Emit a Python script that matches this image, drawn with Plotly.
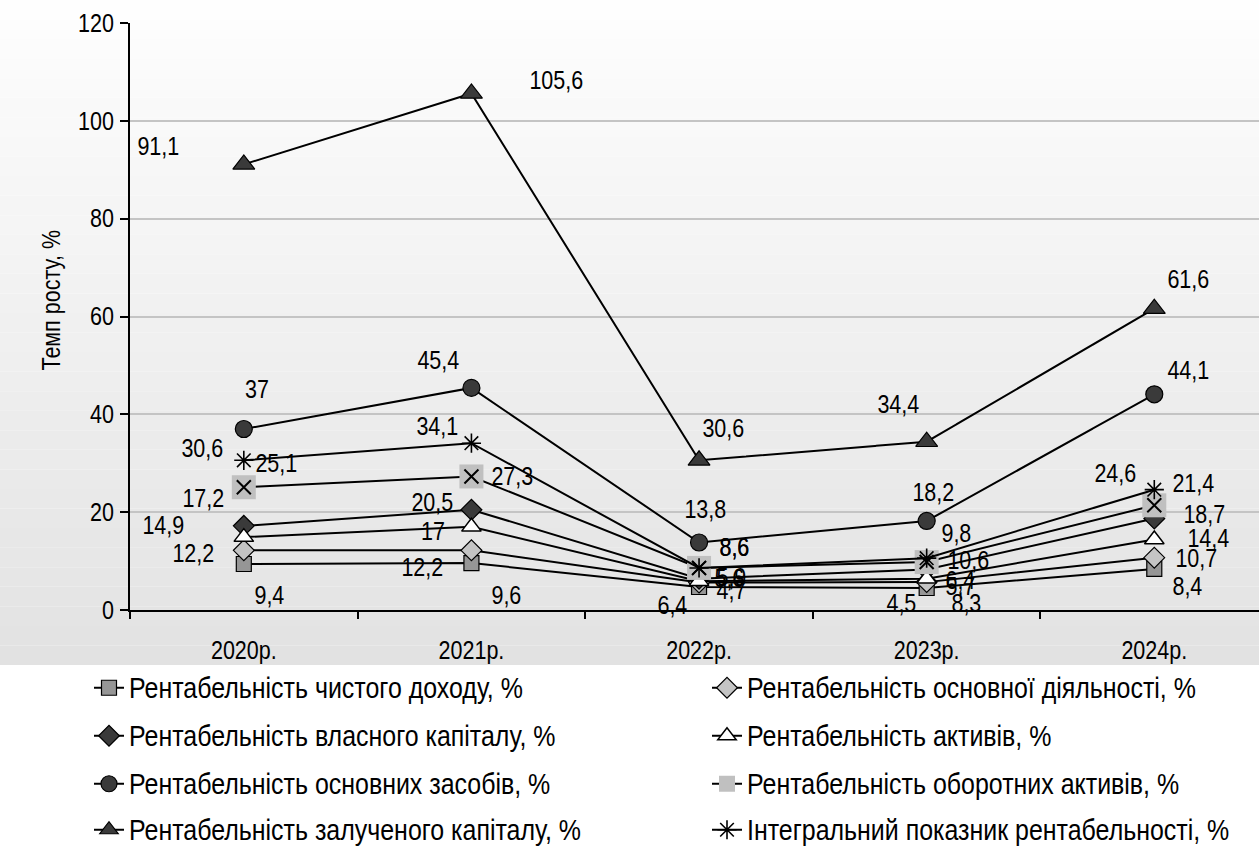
import plotly.graph_objects as go

# Categories (years)
years = ["2020р.", "2021р.", "2022р.", "2023р.", "2024р."]

# Profitability indicators, %
net_income = [9.4, 9.6, 4.7, 4.5, 8.4]
core_activity = [12.2, 12.2, 5.6, 5.7, 10.7]
equity = [17.2, 20.5, 6.4, 8.3, 18.7]
assets = [14.9, 17, 5.9, 6.4, 14.4]
fixed_assets = [37, 45.4, 13.8, 18.2, 44.1]
current_assets = [25.1, 27.3, 8.6, 9.8, 21.4]
borrowed_capital = [91.1, 105.6, 30.6, 34.4, 61.6]
integral_index = [30.6, 34.1, 8.6, 10.6, 24.6]

y_ticks = [0, 20, 40, 60, 80, 100, 120]

FONT = "Liberation Sans, Arial, sans-serif"
DARK = "#3a3a3a"

# name, values, marker style, legend slot (column, row), label offsets (px right, px down)
series = [
    ("Рентабельність чистого доходу, %", net_income,
     dict(symbol="square", size=15, color="#969696", line=dict(color="black", width=1.2)),
     (0, 0), [(26, 31), (35, 32), (32, 3), (-25, 15), (33, 17)]),
    ("Рентабельність основної діяльності, %", core_activity,
     dict(symbol="diamond", size=16, color="#c4c4c4", line=dict(color="black", width=1.2)),
     (1, 0), [(-50, 3), (-49, 17), (30, -5), (34, 4), (42, 0)]),
    ("Рентабельність власного капіталу, %", equity,
     dict(symbol="diamond", size=16, color=DARK, line=dict(color="black", width=1.2)),
     (0, 1), [(-40, -28), (-39, -8), (-27, 26), (40, 34), (50, -5)]),
    ("Рентабельність активів, %", assets,
     dict(symbol="triangle-up", size=17, color="white", line=dict(color="black", width=1.5)),
     (1, 1), [(-80, -12), (-38, 4), (32, -4), (34, 1), (54, -2)]),
    ("Рентабельність основних засобів, %", fixed_assets,
     dict(symbol="circle", size=17, color=DARK, line=dict(color="black", width=1.2)),
     (0, 2), [(13, -40), (-33, -28), (6, -34), (7, -29), (34, -24)]),
    ("Рентабельність оборотних активів, %", current_assets,
     dict(symbol="square", size=24, color="#c0c0c0", line=dict(width=0)),
     (1, 2), [(33, -24), (41, 0), (35, -21), (30, -29), (39, -22)]),
    ("Рентабельність залученого капіталу, %", borrowed_capital,
     dict(symbol="triangle-up", size=19, color=DARK, line=dict(color="black", width=1.2)),
     (0, 3), [(-85, -18), (85, -13), (24, -32), (-28, -38), (34, -30)]),
    ("Інтегральний показник рентабельності, %", integral_index,
     dict(symbol="asterisk-open", size=16, color="black", line=dict(color="black", width=1.6)),
     (1, 3), [(-41, -12), (-34, -17), (35, -21), (42, 2), (-39, -17)]),
]

W, H = 1259, 854
L, T, B = 130, 23, 610
pw, ph = W - L, B - T

xs = list(range(len(years)))
fig = go.Figure()

# legend entries are laid out at 25px and enlarged to 29px narrow lettering below
legend_style = dict(
    orientation="h", xanchor="left", yanchor="middle",
    font=dict(family=FONT, size=25, color="black"),
    bgcolor="rgba(0,0,0,0)", itemsizing="trace",
)
col_px = [89, 707]
row_px = [688, 736, 784, 830]
legend_layout = {}

for k, (name, vals, marker, (col, row), offsets) in enumerate(series):
    leg = "legend" if k == 0 else f"legend{k + 1}"
    legend_layout[leg] = dict(legend_style, x=(col_px[col] - L) / pw,
                              y=(B - row_px[row]) / ph)
    fig.add_trace(go.Scatter(
        x=xs, y=vals, name=name, mode="lines+markers",
        line=dict(color="black", width=2), marker=marker, legend=leg,
    ))
    if name.startswith("Рентабельність оборотних"):
        # black cross drawn over the grey square marker
        fig.add_trace(go.Scatter(
            x=xs, y=vals, mode="markers", showlegend=False, hoverinfo="skip",
            marker=dict(symbol="x-thin-open", size=14, color="black",
                        line=dict(color="black", width=2)),
        ))

# value labels
for name, vals, marker, slot, offsets in series:
    for i, v in enumerate(vals):
        dx, dy = offsets[i]
        fig.add_annotation(
            x=xs[i], y=v, text=f"{v:g}".replace(".", ","), showarrow=False,
            xshift=dx, yshift=-dy, font=dict(family=FONT, size=25, color="black"),
        )

# soft grey backdrop behind the chart area
bands = 34
top_px, bot_px = 0, 665
for k in range(bands):
    p0 = top_px + (bot_px - top_px) * k / bands
    p1 = top_px + (bot_px - top_px) * (k + 1) / bands
    c = round(254 - (254 - 226) * (k + 0.5) / bands)
    fig.add_shape(
        type="rect", xref="paper", yref="paper", layer="below",
        x0=-L / pw, x1=1.0, y0=(B - p1) / ph, y1=(B - p0) / ph,
        fillcolor=f"rgb({c},{c},{c})", line=dict(width=0),
    )

fig.add_annotation(
    xref="paper", yref="paper", x=(51 - L) / pw, y=(B - 300) / ph,
    xanchor="center", yanchor="middle",
    text="Темп росту, %", textangle=-90, showarrow=False,
    font=dict(family=FONT, size=25, color="black"),
)

fig.update_layout(
    width=W, height=H,
    margin=dict(l=L, r=0, t=T, b=H - B, pad=0),
    paper_bgcolor="white", plot_bgcolor="white",
    font=dict(family=FONT, color="black"),
    xaxis=dict(
        range=[-0.5, len(years) - 0.54], tickvals=xs, ticktext=years,
        ticks="", showgrid=False, zeroline=False,
        showline=True, linecolor="black", linewidth=2,
        tickfont=dict(family=FONT, size=25, color="black"), ticklabelstandoff=17,
        minor=dict(tick0=0.5, dtick=1, ticks="outside", ticklen=7,
                   tickwidth=1.5, tickcolor="black", showgrid=False),
    ),
    yaxis=dict(
        range=[0, 120], tickvals=y_ticks, ticks="outside", ticklen=8,
        tickwidth=2, tickcolor="black", showline=True, linecolor="black",
        linewidth=2, gridcolor="#c4c4c4", gridwidth=2, zeroline=False,
        tickfont=dict(family=FONT, size=25, color="black"), ticklabelstandoff=1,
    ),
    **legend_layout,
)

# Narrow lettering: squeeze every text run horizontally around its anchor;
# legend entries (inside any g.legend, g.legend2, ...) are set at 29px here.
condense_js = """
(function () {
  var gd = document.getElementById('{plot_id}');
  var NARROW = 0.86, LEGEND_SIZE = 29, LEGEND_BASE = 25;
  function inLegend(t) {
    if (t.classList.contains('legendtext')) return true;
    var p = t.parentNode;
    while (p && p !== gd && p.getAttribute) {
      var c = p.getAttribute('class') || '';
      if (/^legend\\d*$/.test(c.split(' ')[0])) return true;
      p = p.parentNode;
    }
    return false;
  }
  function fit(t) {
    var isLegend = inLegend(t);
    t.removeAttribute('textLength');
    if (isLegend) { t.style.fontSize = LEGEND_BASE + 'px'; }
    var w = t.getComputedTextLength();
    if (w <= 0) return;
    var scale = 1;
    if (isLegend) {
      t.style.fontSize = LEGEND_SIZE + 'px';
      scale = LEGEND_SIZE / LEGEND_BASE;
    }
    t.setAttribute('textLength', (w * scale * NARROW).toFixed(2));
    t.setAttribute('lengthAdjust', 'spacingAndGlyphs');
  }
  function condense() {
    gd.querySelectorAll('text').forEach(fit);
  }
  condense();
  if (gd.on) { gd.on('plotly_afterplot', condense); }
  [0, 50, 200, 600].forEach(function (ms) { setTimeout(condense, ms); });
})();
"""

fig.write_html("out.html", post_script=condense_js)
